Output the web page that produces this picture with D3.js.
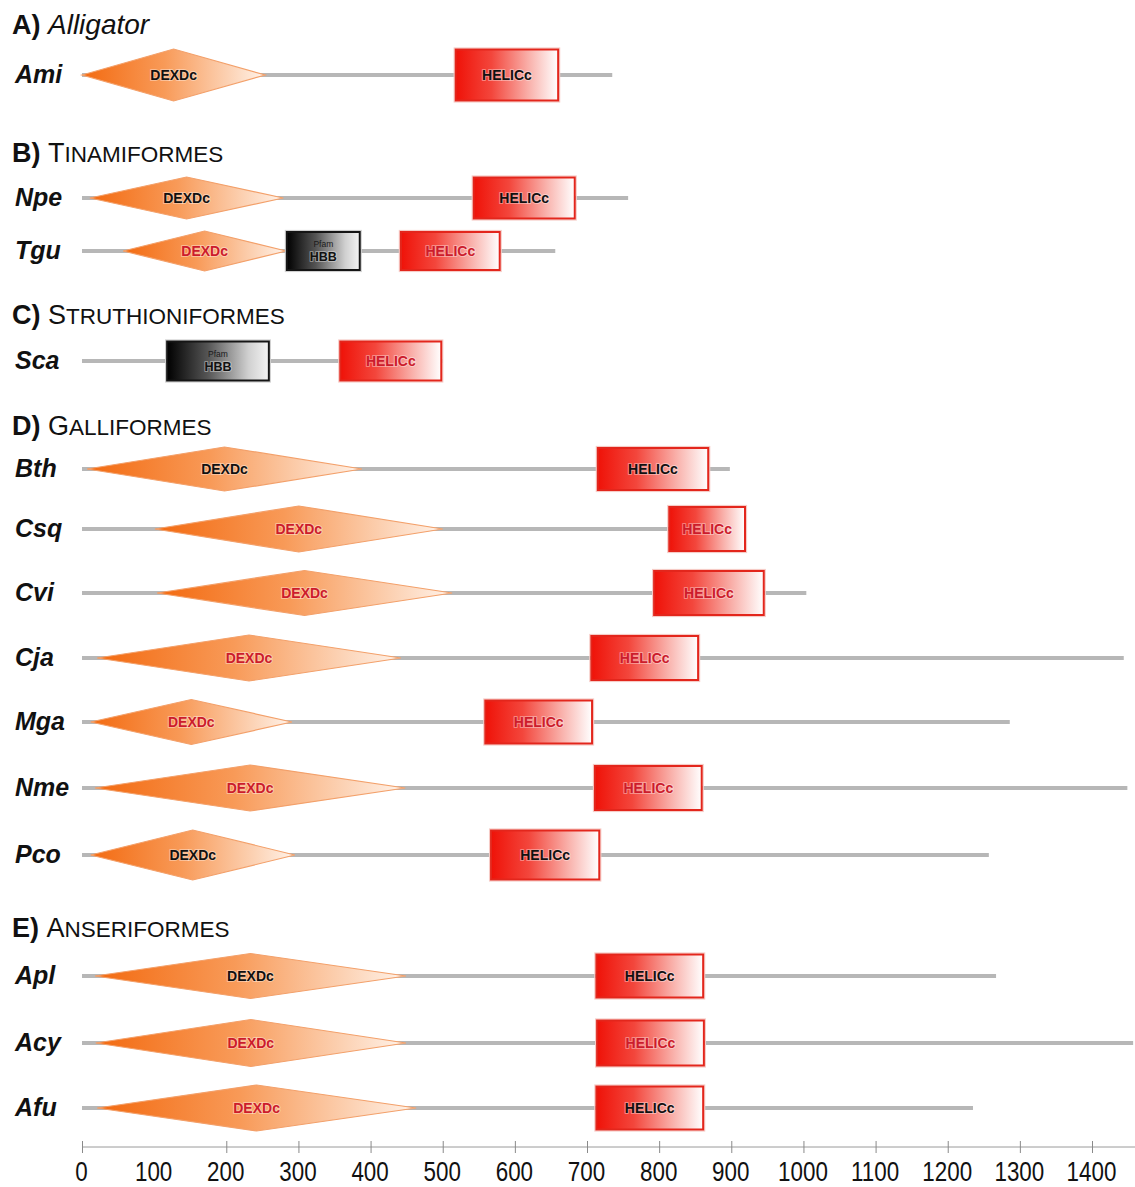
<!DOCTYPE html>
<html>
<head>
<meta charset="utf-8">
<script src="https://cdn.jsdelivr.net/npm/d3@7"></script>
<style>
  html, body { margin: 0; padding: 0; background: #fff; }
  svg { display: block; }
</style>
</head>
<body>
<script>
// Domain architecture of the helicase across reptile and bird lineages.
// Positions are amino-acid residues.

const species        = ["Ami", "Npe", "Tgu", "Sca", "Bth", "Csq", "Cvi", "Cja", "Mga", "Nme", "Pco", "Apl", "Acy", "Afu"];
const proteinLength  = [735, 757, 656, 500, 898, 919, 1004, 1444, 1286, 1449, 1257, 1267, 1457, 1235];

// DEXDc domain (start, end); null where absent
const dexdStart = [0, 11, 57, null, 7, 101, 104, 21, 12, 18, 12, 18, 19, 21];
const dexdEnd   = [254, 279, 283, null, 388, 500, 513, 442, 291, 448, 295, 449, 449, 463];

// HELICc domain (start, end)
const helicStart = [518, 543, 442, 358, 715, 814, 793, 706, 559, 711, 567, 713, 714, 713];
const helicEnd   = [660, 683, 579, 498, 868, 919, 945, 854, 707, 859, 717, 861, 862, 861];

// Pfam HBB domain (start, end); null where absent
const hbbStart = [null, null, 284, 118, null, null, null, null, null, null, null, null, null, null];
const hbbEnd   = [null, null, 385, 259, null, null, null, null, null, null, null, null, null, null];

const sectionLetters = ["A)", "B)", "C)", "D)", "E)"];
const sectionNames   = ["Alligator", "Tinamiformes", "Struthioniformes", "Galliformes", "Anseriformes"];

const tickValues = [0, 100, 200, 300, 400, 500, 600, 700, 800, 900, 1000, 1100, 1200, 1300, 1400];

// ---- layout ----
const W = 1135, H = 1187;
const rowY      = [75, 198, 251, 361, 469, 529, 593, 658, 722, 788, 855, 976, 1043, 1108];
const rowHeight = [52, 42, 40, 40, 44, 46, 45, 46, 45, 46, 50, 45, 47, 46];
const boxHeight = [51, 41, 38, 39, 42, 44, 44, 44, 43, 44, 49, 43, 45, 43];
const sectionY  = [34, 162, 324, 435, 937];
const RED = "#cc1c2c", BLACK = "#111";
const dexdInk  = [BLACK, BLACK, RED, null, BLACK, RED, RED, RED, RED, RED, BLACK, BLACK, RED, RED];
const helicInk = [BLACK, BLACK, RED, RED, BLACK, RED, RED, RED, RED, RED, BLACK, BLACK, RED, BLACK];
const axisY = 1147;

const x = d3.scaleLinear().domain([0, 1460]).range([82, 1135.3]);

const svg = d3.select("body").append("svg")
  .attr("width", W).attr("height", H)
  .attr("font-family", "'Liberation Sans', Arial, Helvetica, sans-serif");

// gradients
const defs = svg.append("defs");
function hGrad(id, stops) {
  const g = defs.append("linearGradient").attr("id", id)
    .attr("x1", "0%").attr("x2", "100%").attr("y1", "0%").attr("y2", "0%");
  stops.forEach(([o, c]) => g.append("stop").attr("offset", o).attr("stop-color", c));
}
hGrad("gDexd",  [["0%", "#f36a10"], ["45%", "#f89a58"], ["80%", "#fcd2b4"], ["100%", "#fff3ea"]]);
hGrad("gHelic", [["0%", "#ef1208"], ["35%", "#f3463c"], ["72%", "#f9b2ac"], ["100%", "#ffffff"]]);
hGrad("gHbb",   [["0%", "#000000"], ["40%", "#555555"], ["80%", "#d0d0d0"], ["100%", "#f4f4f4"]]);

// domain label with a soft light halo so it reads on the gradient
function domainLabel(g, cx, cy, size, ink, txt) {
  g.append("text").attr("x", cx).attr("y", cy)
    .attr("text-anchor", "middle").attr("font-size", size).attr("font-weight", "bold")
    .attr("fill", ink)
    .attr("stroke", "rgba(255,255,255,0.4)").attr("stroke-width", 2)
    .attr("paint-order", "stroke").attr("stroke-linejoin", "round")
    .text(txt);
}

// section headers
sectionLetters.forEach((letter, i) => {
  const t = svg.append("text").attr("x", 12).attr("y", sectionY[i])
    .attr("fill", "#111").attr("font-size", 27);
  t.append("tspan").attr("font-weight", "bold").text(letter + " ");
  const name = sectionNames[i];
  if (i === 0) {
    t.append("tspan").attr("font-style", "italic").attr("font-size", 28).text(name);
  } else {
    t.append("tspan").text(name[0].toUpperCase());
    t.append("tspan").attr("font-size", 22.5).text(name.slice(1).toUpperCase());
  }
});

// one row per species
const rows = svg.selectAll("g.row").data(species).join("g")
  .attr("class", "row")
  .attr("transform", (d, i) => `translate(0,${rowY[i]})`);

rows.append("text")
  .attr("x", 15).attr("y", 8)
  .attr("font-size", 25).attr("font-weight", "bold").attr("font-style", "italic")
  .attr("fill", "#111")
  .text(d => d);

// backbone
rows.append("line")
  .attr("x1", x(0)).attr("x2", (d, i) => x(proteinLength[i]))
  .attr("y1", 0).attr("y2", 0)
  .attr("stroke", "#b7b7b7").attr("stroke-width", 4);

// DEXDc diamonds
rows.filter((d, i) => dexdStart[i] !== null).each(function (d) {
  const i = species.indexOf(d);
  const g = d3.select(this);
  const x0 = x(dexdStart[i]), x1 = x(dexdEnd[i]), xm = (x0 + x1) / 2, h = rowHeight[i] / 2;
  g.append("path")
    .attr("d", `M${x0},0 L${xm},${-h} L${x1},0 L${xm},${h} Z`)
    .attr("fill", "url(#gDexd)")
    .attr("stroke", "#f3a06a").attr("stroke-width", 1.2).attr("stroke-linejoin", "miter");
  domainLabel(g, xm, 5, 14, dexdInk[i], "DEXDc");
});

// Pfam HBB boxes
rows.filter((d, i) => hbbStart[i] !== null).each(function (d) {
  const i = species.indexOf(d);
  const g = d3.select(this);
  const x0 = x(hbbStart[i]), x1 = x(hbbEnd[i]), h = boxHeight[i];
  g.append("rect").attr("x", x0 - 1.5).attr("y", -h / 2 - 1.5).attr("width", x1 - x0 + 3).attr("height", h + 3)
    .attr("fill", "none").attr("stroke", "#cfcfcf").attr("stroke-width", 1.2);
  g.append("rect").attr("x", x0).attr("y", -h / 2).attr("width", x1 - x0).attr("height", h)
    .attr("fill", "url(#gHbb)").attr("stroke", "#151515").attr("stroke-width", 2);
  g.append("text").attr("x", (x0 + x1) / 2).attr("y", -4)
    .attr("text-anchor", "middle").attr("font-size", 8.5).attr("fill", "#1a1a1a")
    .text("Pfam");
  domainLabel(g, (x0 + x1) / 2, 10, 12.5, "#111", "HBB");
});

// HELICc boxes
rows.each(function (d) {
  const i = species.indexOf(d);
  const g = d3.select(this);
  const x0 = x(helicStart[i]), x1 = x(helicEnd[i]), h = boxHeight[i];
  g.append("rect").attr("x", x0 - 1.5).attr("y", -h / 2 - 1.5).attr("width", x1 - x0 + 3).attr("height", h + 3)
    .attr("fill", "none").attr("stroke", "#f6cbc6").attr("stroke-width", 1.2);
  g.append("rect").attr("x", x0).attr("y", -h / 2).attr("width", x1 - x0).attr("height", h)
    .attr("fill", "url(#gHelic)").attr("stroke", "#e3261c").attr("stroke-width", 2);
  domainLabel(g, (x0 + x1) / 2, 5, 14, helicInk[i], "HELICc");
});

// residue axis
const axis = d3.axisBottom(x).tickValues(tickValues).tickSize(0).tickPadding(0).tickFormat(d3.format("d"));
const ax = svg.append("g").attr("transform", `translate(0,${axisY})`).call(axis);
ax.select(".domain").attr("stroke", "#9a9a9a").attr("stroke-width", 1)
  .attr("d", `M${x(0)},0H${W}`);
ax.selectAll(".tick line")
  .attr("y1", -6).attr("y2", 6)
  .attr("stroke", "#8a8a8a").attr("stroke-width", 1)
  .attr("opacity", d => d === 100 ? 0 : 1);
// condensed numerals
ax.selectAll(".tick text")
  .attr("y", 0).attr("dy", 0)
  .attr("transform", "translate(-1,34) scale(0.8,1)")
  .attr("font-family", "'Liberation Sans', Arial, sans-serif")
  .attr("font-size", 28).attr("fill", "#111");
</script>
</body>
</html>
